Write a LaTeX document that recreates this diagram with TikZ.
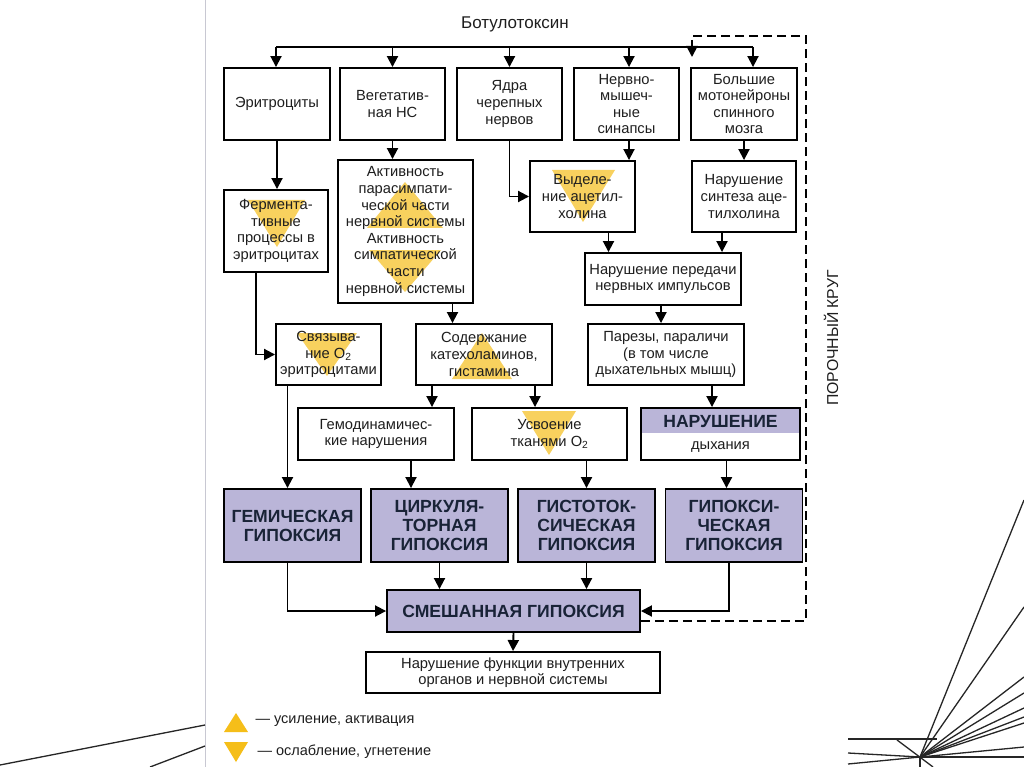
\documentclass[tikz,border=0pt]{standalone}
\usepackage{fontspec}
\setmainfont{Liberation Sans}
\usetikzlibrary{arrows.meta}
\definecolor{lilac}{RGB}{186,181,216}
\definecolor{navy}{RGB}{25,35,55}
\definecolor{ink}{RGB}{30,30,30}
\definecolor{gold}{RGB}{245,190,25}
\definecolor{frame}{RGB}{200,200,210}

\begin{document}
\begin{tikzpicture}[x=1pt, y=-1pt,
    box/.style={draw, line width=1.9pt, align=center, inner sep=1pt, text=ink, font=\fontsize{14.7}{16.6}\selectfont},
    hypo/.style={box, fill=lilac, text=navy, minimum width=137pt, minimum height=73pt, font=\fontsize{17.6}{19}\selectfont\bfseries},
    arrow/.style={-{Triangle[length=11pt,width=11pt]}, line width=1.9pt},
    loop/.style={arrow, dash pattern=on 9pt off 5pt},
    upmark/.style={fill=gold!70},
    decor/.style={line width=1.3pt, black!85}
  ]
  \useasboundingbox (0,0) rectangle (1024,767);
  \fill[white] (0,0) rectangle (1024,767);

  % Slide background
  \draw[frame, line width=0.8pt] (205,0) -- (205,767);
  \draw[decor] (0,765) -- (205,725);
  \draw[decor] (150,767) -- (205,746);
  \coordinate (burst) at (920,757);
  \foreach \ey in {500,607,677,693,708,717,723,747,757}
    \draw[decor] (burst) -- (1024,\ey);
  \draw[decor] (848,739) -- (937,739);
  \draw[decor] (848,753) -- (burst);
  \draw[decor] (848,764) -- (burst);
  \draw[decor] (897,740) -- (933,767);
  \draw[decor] (burst) -- (920,767);

  % Marks (under the text)
  \fill[upmark] (248,200) -- (305,200) -- (277,247) -- cycle;
  \fill[upmark] (405,182) -- (443,228) -- (367,228) -- cycle;
  \fill[upmark] (369,250) -- (441,250) -- (405,292) -- cycle;
  \fill[upmark] (552,170) -- (615,170) -- (583,222) -- cycle;
  \fill[upmark] (297,333) -- (357,333) -- (327,376) -- cycle;
  \fill[upmark] (482,333) -- (512,379) -- (452,379) -- cycle;
  \fill[upmark] (522,411) -- (576,411) -- (549,455) -- cycle;

  % Toxin
  \node[text=ink, font=\fontsize{17}{20}\selectfont] (toxin) at (515,24) {Ботулотоксин};
  \coordinate (busL) at (276,47);
  \coordinate (busR) at (753,47);

  % Targets
  \node[box, minimum width=106pt, minimum height=72pt] (eryth) at (277,104) {Эритроциты};
  \node[box, minimum width=105pt, minimum height=72pt] (veget) at (392.5,104) {Вегетатив-\\ная НС};
  \node[box, minimum width=105pt, minimum height=72pt] (yadra) at (509.5,104) {Ядра\\черепных\\нервов};
  \node[box, minimum width=105pt, minimum height=72pt] (synap) at (626.5,104) {Нервно-\\мышеч-\\ные\\синапсы};
  \node[box, minimum width=106pt, minimum height=72pt] (moton) at (744,104) {Большие\\мотонейроны\\спинного\\мозга};

  % Second level
  \node[box, minimum width=104pt, minimum height=82pt] (ferment) at (276,231) {Фермента-\\тивные\\процессы в\\эритроцитах};
  \node[box, minimum width=135pt, minimum height=143pt] (activ) at (405.5,231.5) {Активность\\парасимпати-\\ческой части\\нервной системы\\Активность\\симпатической\\части\\нервной системы};
  \node[box, minimum width=105pt, minimum height=71pt] (vydel) at (582.5,196.5) {Выделе-\\ние ацетил-\\холина};
  \node[box, minimum width=104pt, minimum height=71pt] (sintez) at (744,196.5) {Нарушение\\синтеза аце-\\тилхолина};
  \node[box, minimum width=156pt, minimum height=52pt] (peredacha) at (663,279) {Нарушение передачи\\нервных импульсов};

  % Third level
  \node[box, minimum width=105pt, minimum height=61pt] (svyaz) at (328.5,354.5) {Связыва-\\ние O\textsubscript{2}\\эритроцитами};
  \node[box, minimum width=136pt, minimum height=61pt] (soderzh) at (484,354.5) {Содержание\\катехоламинов,\\гистамина};
  \node[box, minimum width=156pt, minimum height=61pt] (parezy) at (666,354.5) {Парезы, параличи\\(в том числе\\дыхательных мышц)};

  % Fourth level
  \node[box, minimum width=156pt, minimum height=52pt] (gemodin) at (376,434) {Гемодинамичес-\\кие нарушения};
  \node[box, minimum width=155pt, minimum height=52pt] (usvoen) at (549.5,434) {Усвоение\\тканями O\textsubscript{2}};
  \node[box, minimum width=159pt, minimum height=52pt,
    path picture={\fill[lilac] (path picture bounding box.north west) rectangle ([yshift=-25pt]path picture bounding box.north east);}]
    (dyhan) at (720.5,434) {{\fontsize{17.6}{18}\selectfont\bfseries\color{navy}НАРУШЕНИЕ}\\[5pt]дыхания};

  % Hypoxia types
  \node[hypo] (gemich) at (292.5,525.5) {ГЕМИЧЕСКАЯ\\ГИПОКСИЯ};
  \node[hypo] (cirk) at (439.5,525.5) {ЦИРКУЛЯ-\\ТОРНАЯ\\ГИПОКСИЯ};
  \node[hypo] (gist) at (586.5,525.5) {ГИСТОТОК-\\СИЧЕСКАЯ\\ГИПОКСИЯ};
  \node[hypo] (gipoks) at (734,525.5) {ГИПОКСИ-\\ЧЕСКАЯ\\ГИПОКСИЯ};
  \node[hypo, minimum width=253pt, minimum height=42pt] (smesh) at (513.5,611) {СМЕШАННАЯ ГИПОКСИЯ};
  \node[box, minimum width=294pt, minimum height=41pt] (fnarush) at (513,672.5) {Нарушение функции внутренних\\органов и нервной системы};

  % Vicious circle
  \coordinate (loopR) at (806,36);
  \coordinate (loopL) at (692,36);
  \coordinate (loopT) at (692,57);
  \node[rotate=90, text=ink, font=\fontsize{15.8}{18}\selectfont] (krug) at (831,338) {ПОРОЧНЫЙ КРУГ};

  % Arrows
  \draw[line width=1.9pt] (busL) -- (busR);
  \draw[arrow] (busL) -- (busL |- eryth.north);
  \draw[arrow] (veget.north |- busL) -- (veget.north);
  \draw[arrow] (yadra.north |- busL) -- (yadra.north);
  \draw[arrow] ([xshift=2.5pt]synap.north |- busL) -- ([xshift=2.5pt]synap.north);
  \draw[arrow] (busR) -- (busR |- moton.north);
  \draw[loop] ([yshift=-10pt]smesh.east) -| (loopR) -- (loopL) -- (loopT);

  \draw[arrow] (eryth.south) -- (eryth.south |- ferment.north);
  \draw[arrow] (veget.south) -- (veget.south |- activ.north);
  \draw[arrow] (yadra.south) |- (vydel.west);
  \draw[arrow] ([xshift=2.5pt]synap.south) -- ([xshift=2.5pt]synap.south |- vydel.north);
  \draw[arrow] (moton.south) -- (sintez.north);
  \draw[arrow] ([xshift=26pt]vydel.south) -- ([xshift=26pt]vydel.south |- peredacha.north);
  \draw[arrow] ([xshift=-22pt]sintez.south) -- ([xshift=-22pt]sintez.south |- peredacha.north);

  \draw[arrow] ([xshift=-20pt]ferment.south) |- (svyaz.west);
  \draw[arrow] ([xshift=47pt]activ.south) -- ([xshift=47pt]activ.south |- soderzh.north);
  \draw[arrow] ([xshift=-2pt]peredacha.south) -- ([xshift=-2pt]peredacha.south |- parezy.north);

  \draw[arrow] ([xshift=-52pt]soderzh.south) -- ([xshift=-52pt]soderzh.south |- gemodin.north);
  \draw[arrow] ([xshift=51pt]soderzh.south) -- ([xshift=51pt]soderzh.south |- usvoen.north);
  \draw[arrow] ([xshift=46pt]parezy.south) -- ([xshift=46pt]parezy.south |- dyhan.north);

  \draw[arrow] ([xshift=-41pt]svyaz.south) -- ([xshift=-41pt]svyaz.south |- gemich.north);
  \draw[arrow] ([xshift=35pt]gemodin.south) -- ([xshift=35pt]gemodin.south |- cirk.north);
  \draw[arrow] ([xshift=37pt]usvoen.south) -- ([xshift=37pt]usvoen.south |- gist.north);
  \draw[arrow] ([xshift=6pt]dyhan.south) -- ([xshift=6pt]dyhan.south |- gipoks.north);

  \draw[arrow] ([xshift=-5pt]gemich.south) |- (smesh.west);
  \draw[arrow] (cirk.south) -- (cirk.south |- smesh.north);
  \draw[arrow] (gist.south) -- (gist.south |- smesh.north);
  \draw[arrow] ([xshift=-5pt]gipoks.south) |- (smesh.east);
  \draw[arrow] (smesh.south) -- (fnarush.north);

  % Legend
  \fill[gold] (224,732) -- (248,732) -- (236,713) -- cycle;
  \node[anchor=west, text=ink, font=\fontsize{14.5}{16}\selectfont] (legup) at (252,721) {— усиление, активация};
  \fill[gold] (224,742) -- (248,742) -- (236,762) -- cycle;
  \node[anchor=west, text=ink, font=\fontsize{14.5}{16}\selectfont] (legdown) at (254,752) {— ослабление, угнетение};
\end{tikzpicture}
\end{document}
